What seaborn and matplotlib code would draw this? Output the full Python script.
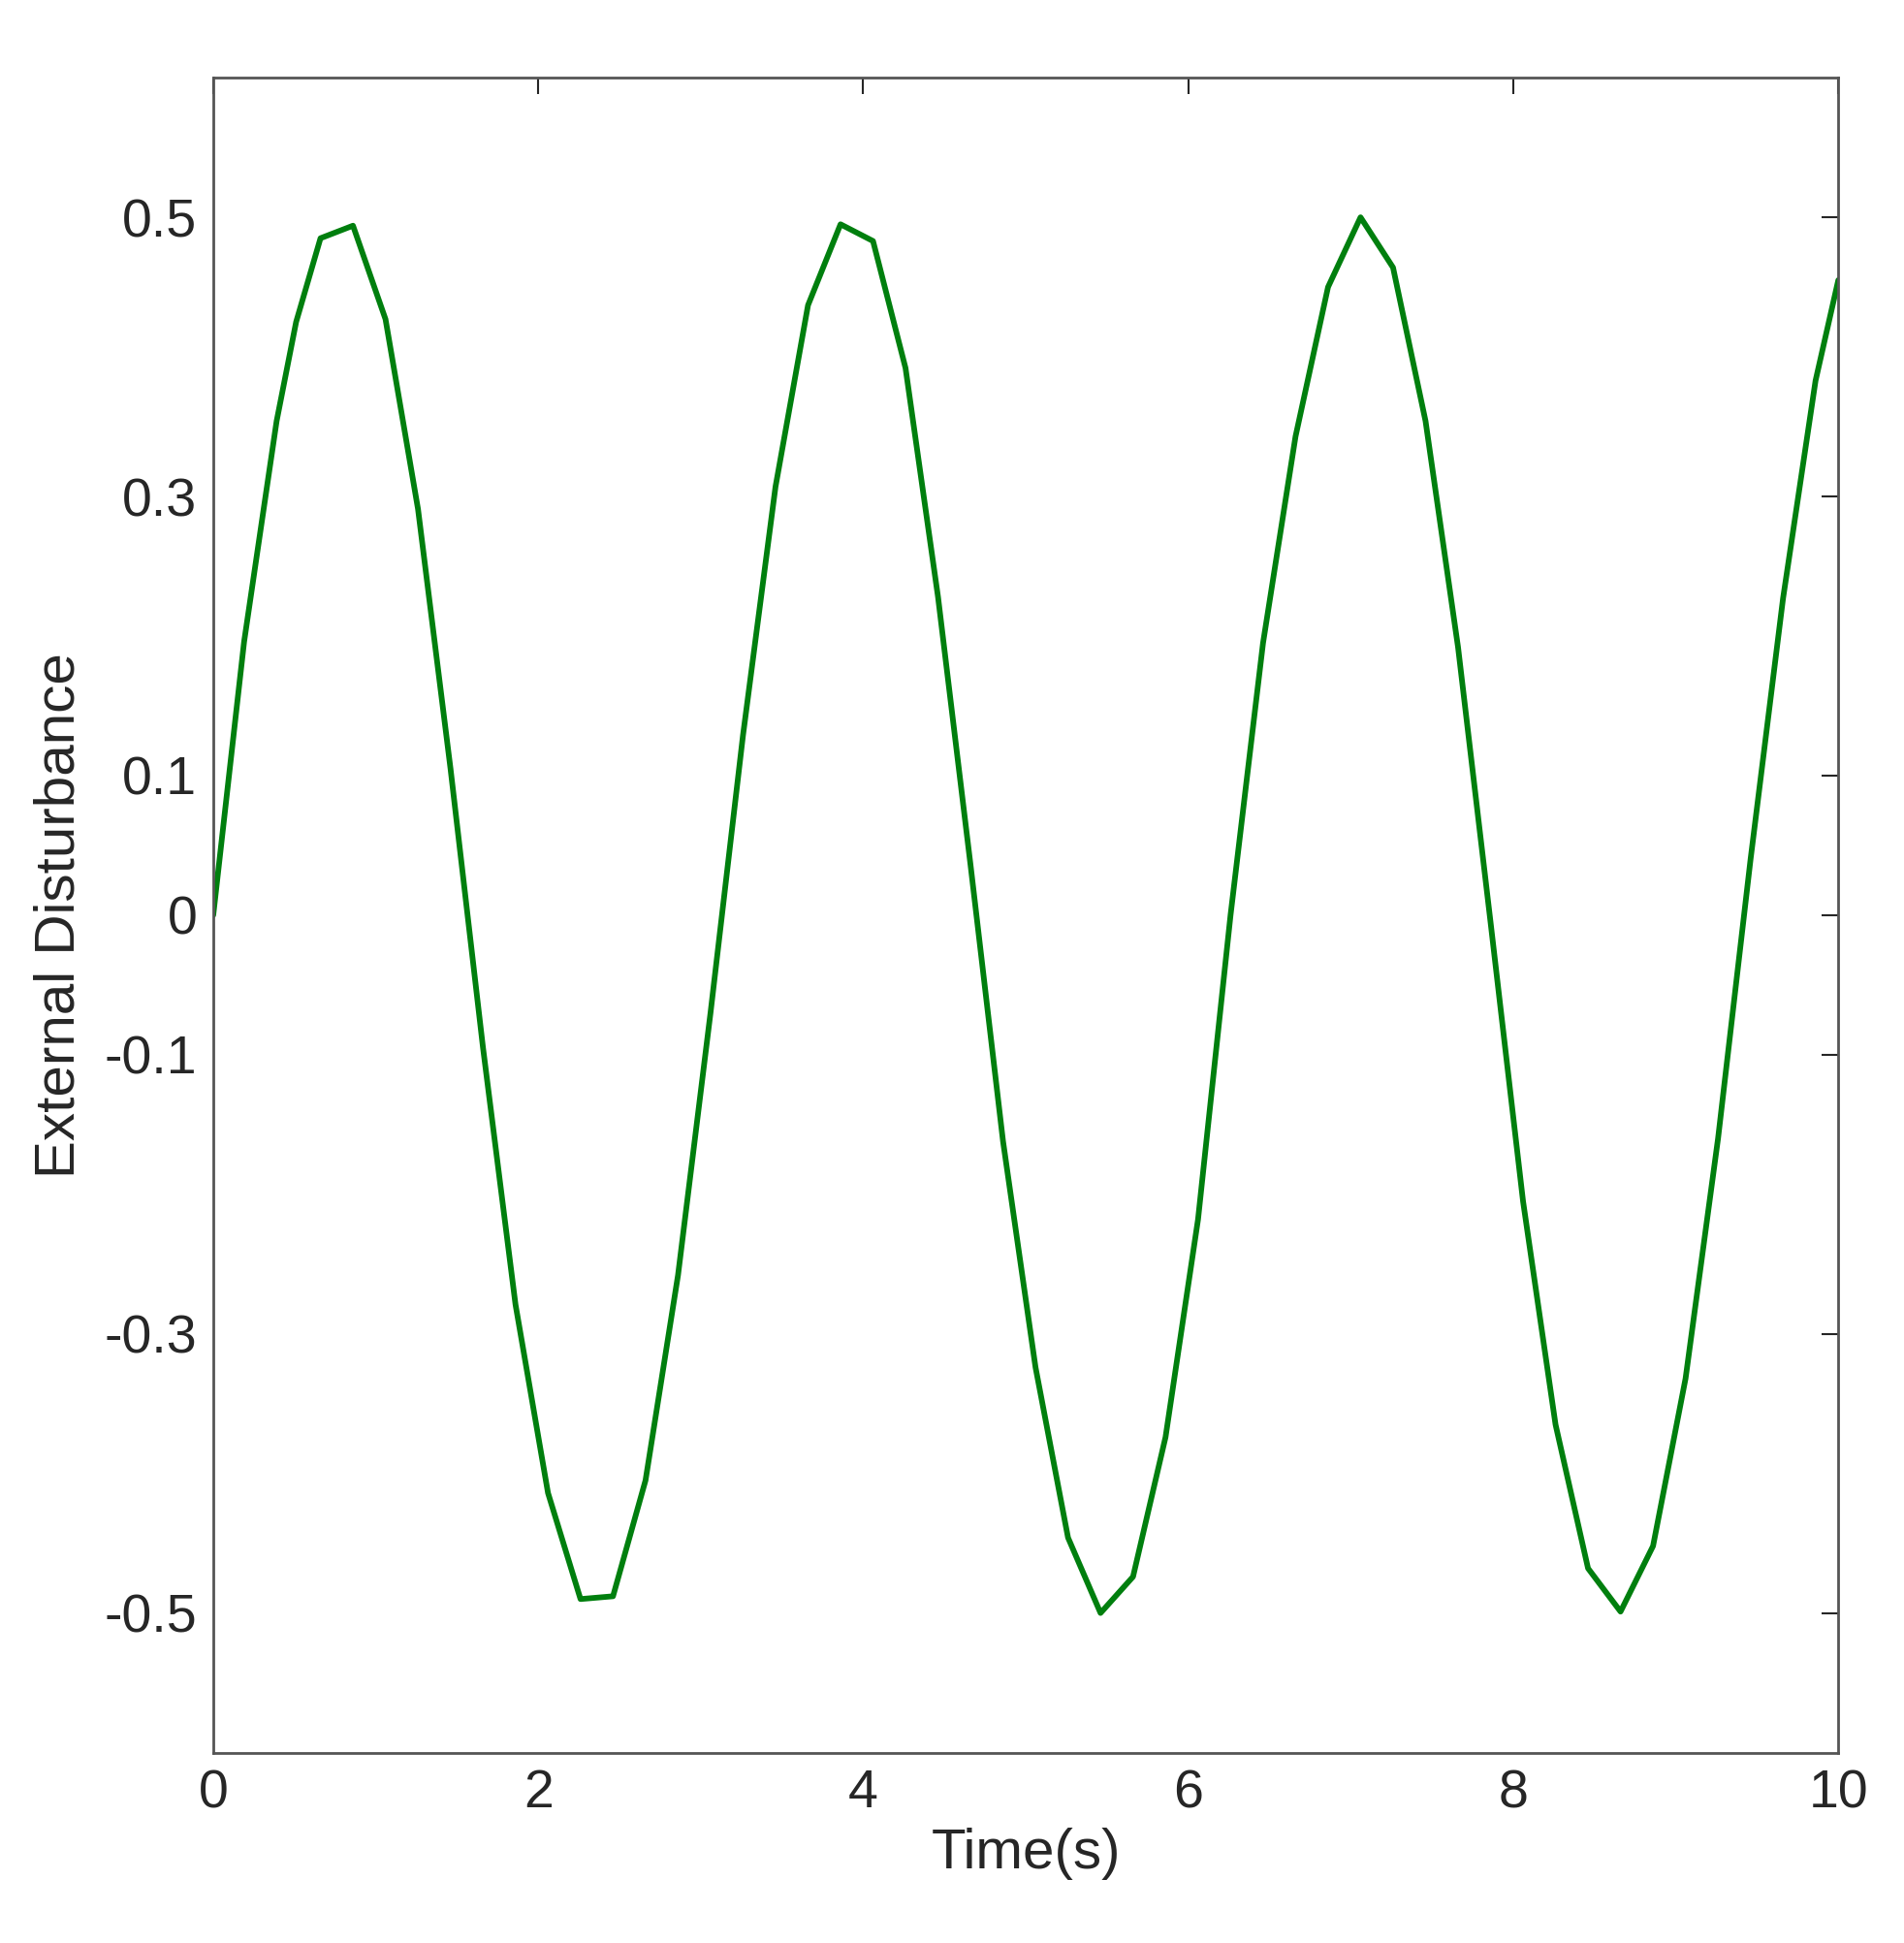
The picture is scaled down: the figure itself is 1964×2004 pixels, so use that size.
import matplotlib
matplotlib.use("Agg")
import matplotlib.pyplot as plt
import seaborn as sns
import pandas as pd

time_s = [0, 0.19, 0.39, 0.51, 0.66, 0.86, 1.06, 1.26, 1.46, 1.66, 1.86, 2.06, 2.26, 2.46, 2.66,
          2.86, 3.06, 3.26, 3.46, 3.66, 3.86, 4.06, 4.26, 4.46, 4.66, 4.86, 5.06, 5.26, 5.46,
          5.66, 5.86, 6.06, 6.26, 6.46, 6.66, 6.86, 7.06, 7.26, 7.46, 7.66, 7.86, 8.06, 8.26,
          8.46, 8.66, 8.86, 9.06, 9.26, 9.46, 9.66, 9.86, 10.0]
disturbance = [0, 0.196, 0.354, 0.425, 0.485, 0.494, 0.427, 0.291, 0.105, -0.095, -0.279,
               -0.414, -0.49, -0.488, -0.405, -0.258, -0.07, 0.129, 0.307, 0.437, 0.495, 0.483,
               0.392, 0.228, 0.036, -0.162, -0.324, -0.446, -0.5, -0.474, -0.374, -0.218, 0.0,
               0.195, 0.343, 0.45, 0.5, 0.464, 0.354, 0.192, -0.005, -0.205, -0.365, -0.468,
               -0.499, -0.452, -0.332, -0.16, 0.04, 0.227, 0.383, 0.455]

df = pd.DataFrame({"t": time_s, "d": disturbance})
sns.set_style("white")
plt.rcParams['font.family'] = ['Liberation Sans', 'DejaVu Sans']
fig = plt.figure(figsize=(19.64, 20.04), dpi=100)
ax = fig.add_axes([0.112, 0.098, 0.8535, 0.862])
sns.lineplot(data=df, x="t", y="d", color="#007f0e", linewidth=4.2, ax=ax, sort=False)
ax.set_xlim(0, 10)
ax.set_ylim(-0.6, 0.6)
ax.set_xticks([0, 2, 4, 6, 8, 10])
ax.set_yticks([-0.5, -0.3, -0.1, 0, 0.1, 0.3, 0.5])
ax.set_yticklabels(["-0.5", "-0.3", "-0.1", "0", "0.1", "0.3", "0.5"])
ax.tick_params(direction="in", length=12, width=1.5, top=True, right=True,
               labelsize=40, colors="#262626", pad=12)
for s in ax.spines.values():
    s.set_color("#555555"); s.set_linewidth(2)
ax.set_xlabel("Time(s)", fontsize=42, color="#262626", labelpad=6)
ax.set_ylabel("External Disturbance", fontsize=42, color="#262626", labelpad=14)
fig.savefig("out.png", dpi=100)
